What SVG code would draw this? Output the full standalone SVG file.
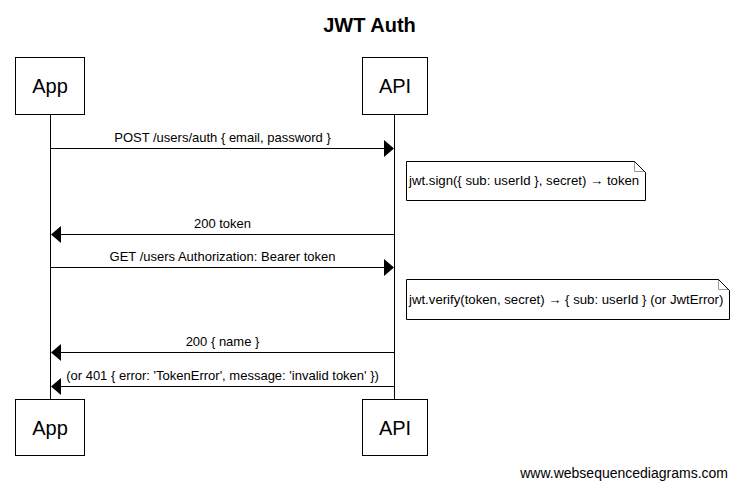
<svg xmlns="http://www.w3.org/2000/svg" width="738" height="490" viewBox="0 0 738 490">
<style>
text{font-family:"Liberation Sans",Arial,sans-serif;fill:#000}
.box{fill:#fff;stroke:#000;stroke-width:1}
.life{stroke:#000;stroke-width:1}
.msg{stroke:#000;stroke-width:1}
.lbl{font-size:13px;text-anchor:middle}
.part{font-size:20px;text-anchor:middle}
.note{fill:#fff;stroke:#000;stroke-width:1}
.fold{fill:none;stroke:#999;stroke-width:1}
.ntxt{font-size:13.2px}
</style>
<rect width="738" height="490" fill="#fff"/>
<text x="369.5" y="32" font-size="20" font-weight="bold" text-anchor="middle">JWT Auth</text>
<g id="lifelines">
<line class="life" x1="50.5" y1="114" x2="50.5" y2="399"/>
<line class="life" x1="394.5" y1="114" x2="394.5" y2="399"/>
</g>
<g id="App">
<rect class="box" x="15.5" y="57.5" width="69" height="57"/>
<text class="part" x="50" y="93">App</text>
</g>
<g id="API">
<rect class="box" x="362.5" y="57.5" width="65" height="57"/>
<text class="part" x="395" y="93">API</text>
</g>
<g id="App-bottom">
<rect class="box" x="15.5" y="399.5" width="69" height="56"/>
<text class="part" x="50" y="435">App</text>
</g>
<g id="API-bottom">
<rect class="box" x="362.5" y="399.5" width="65" height="56"/>
<text class="part" x="395" y="435">API</text>
</g>
<g id="connectors">
<line class="msg" x1="50.5" y1="148.5" x2="386" y2="148.5"/>
<polygon points="384,140 394,148.5 384,157"/>
<text class="lbl" x="222.5" y="142">POST /users/auth { email, password }</text>
<line class="msg" x1="59" y1="234.5" x2="394.5" y2="234.5"/>
<polygon points="61,226 51,234.5 61,243"/>
<text class="lbl" x="222.5" y="228">200 token</text>
<line class="msg" x1="50.5" y1="267.5" x2="386" y2="267.5"/>
<polygon points="384,259 394,267.5 384,276"/>
<text class="lbl" x="222.5" y="261">GET /users Authorization: Bearer token</text>
<line class="msg" x1="59" y1="352.5" x2="394.5" y2="352.5"/>
<polygon points="61,344 51,352.5 61,361"/>
<text class="lbl" x="222.5" y="346">200 { name }</text>
<line class="msg" x1="59" y1="386.5" x2="394.5" y2="386.5"/>
<polygon points="61,378 51,386.5 61,395"/>
<text class="lbl" x="222.5" y="380">(or 401 { error: 'TokenError', message: 'invalid token' })</text>
</g>
<g id="note-sign">
<path class="note" d="M406.5,161.5 H634.5 L645.5,172.5 V200.5 H406.5 Z"/>
<path class="fold" d="M634.5,162 V171.5 H645"/>
<line x1="634.5" y1="161.5" x2="645.5" y2="172.5" stroke="#000"/>
<text class="ntxt" x="409" y="185">jwt.sign({ sub: userId }, secret) → token</text>
</g>
<g id="note-verify">
<path class="note" d="M406.5,279.5 H718.5 L729.5,290.5 V319.5 H406.5 Z"/>
<path class="fold" d="M718.5,280 V289.5 H729"/>
<line x1="718.5" y1="279.5" x2="729.5" y2="290.5" stroke="#000"/>
<text class="ntxt" x="409" y="304">jwt.verify(token, secret) → { sub: userId } (or JwtError)</text>
</g>
<text x="728" y="478" font-size="14" text-anchor="end">www.websequencediagrams.com</text>
</svg>
